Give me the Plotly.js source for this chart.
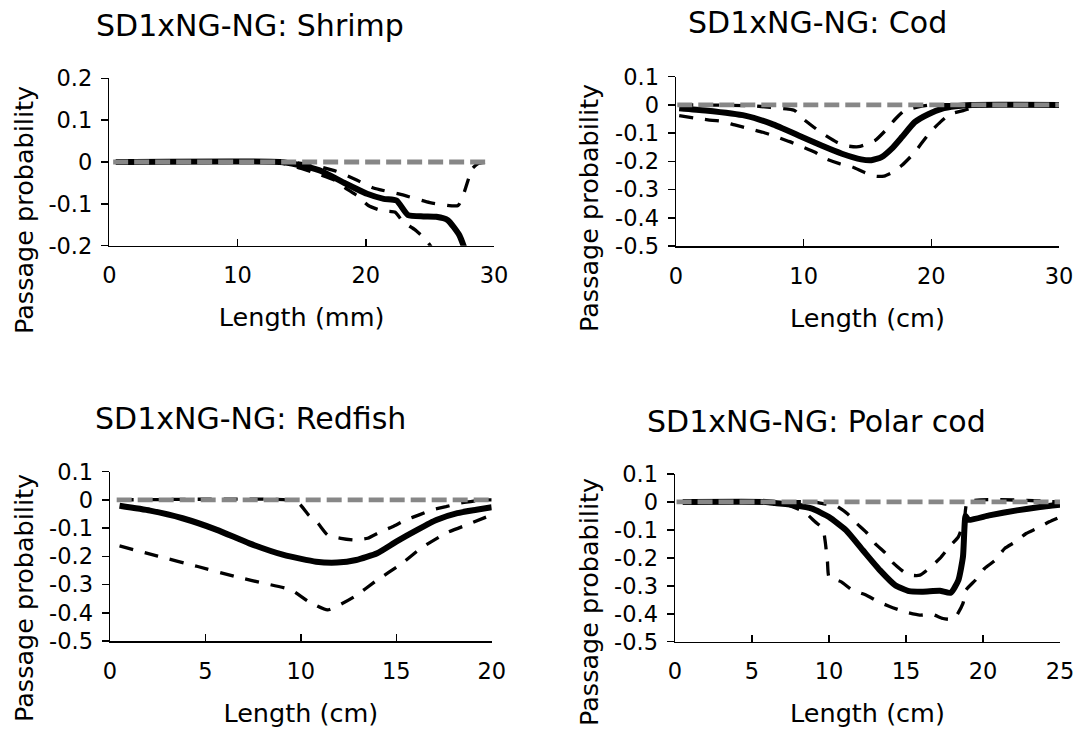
<!DOCTYPE html>
<html>
<head>
<meta charset="utf-8">
<script src="https://cdn.plot.ly/plotly-3.0.1.min.js"></script>
<style>
html,body{margin:0;padding:0;background:#ffffff;}
#chart{width:1077px;height:733px;}
</style>
</head>
<body>
<div id="chart"></div>
<script>
// ---------- Panel titles / labels ----------
const panelTitles = ["SD1xNG-NG: Shrimp", "SD1xNG-NG: Cod", "SD1xNG-NG: Redfish", "SD1xNG-NG: Polar cod"];
const xTitles = ["Length (mm)", "Length (cm)", "Length (cm)", "Length (cm)"];
const yTitle = "Passage probability";

// ---------- Tick labels ----------
const shrimpYTickVals = [0.2, 0.1, 0, -0.1, -0.2];
const shrimpYTickText = ["0.2", "0.1", "0", "-0.1", "-0.2"];
const otherYTickVals = [0.1, 0, -0.1, -0.2, -0.3, -0.4, -0.5];
const otherYTickText = ["0.1", "0", "-0.1", "-0.2", "-0.3", "-0.4", "-0.5"];
const shrimpXTicks = [0, 10, 20, 30];
const codXTicks = [0, 10, 20, 30];
const redfishXTicks = [0, 5, 10, 15, 20];
const polarXTicks = [0, 5, 10, 15, 20, 25];

// ---------- Shrimp ----------
const shrimpEstX = [0.5, 13.3, 14.6, 16.4, 18.2, 20.1, 21.4, 22.4, 23.3, 24.5, 25.5, 26.4, 27.3, 27.8];
const shrimpEstY = [0, 0, -0.006, -0.02, -0.048, -0.076, -0.088, -0.092, -0.127, -0.13, -0.131, -0.139, -0.175, -0.215];
const shrimpUpX = [0.5, 14, 15.5, 17.7, 19.2, 20.6, 22.8, 25, 27.2, 27.7, 28.3, 28.8, 29.5];
const shrimpUpY = [0, 0, -0.005, -0.022, -0.042, -0.062, -0.078, -0.097, -0.104, -0.07, -0.016, -0.003, 0];
const shrimpLoX = [0.5, 13, 14.6, 16.4, 17.6, 18.5, 19.3, 20.2, 21.2, 22.3, 22.9, 23.8, 24.6, 25.1, 25.4];
const shrimpLoY = [0, 0, -0.012, -0.03, -0.044, -0.064, -0.08, -0.104, -0.116, -0.12, -0.143, -0.161, -0.183, -0.203, -0.22];
const shrimpRefX = [0.3, 29.7];
const shrimpRefY = [0, 0];

// ---------- Cod ----------
const codEstX = [0.25, 2.3, 5.4, 7.5, 9.6, 11.4, 13, 14.5, 15.3, 16.1, 16.9, 17.7, 18.7, 19.8, 20.8, 21.9, 23.2, 30];
const codEstY = [-0.012, -0.02, -0.038, -0.067, -0.108, -0.144, -0.173, -0.193, -0.196, -0.185, -0.155, -0.114, -0.061, -0.032, -0.014, -0.005, 0, 0];
const codUpX = [0.25, 6, 7.4, 8.8, 9.3, 9.8, 10.8, 11.5, 12.6, 13.5, 14.3, 15, 15.6, 16.4, 17.2, 17.9, 18.9, 20, 30];
const codUpY = [0, -0.003, -0.009, -0.015, -0.02, -0.044, -0.079, -0.102, -0.132, -0.146, -0.148, -0.138, -0.126, -0.091, -0.049, -0.02, -0.008, 0, 0];
const codLoX = [0.25, 1.4, 2.5, 3.6, 4.6, 5.8, 6.8, 7.8, 8.9, 9.8, 10.9, 11.7, 12.8, 13.8, 14.8, 15.7, 16.3, 16.9, 17.7, 18.6, 19.2, 19.9, 20.7, 21.5, 22.5, 23.4, 25, 30];
const codLoY = [-0.038, -0.046, -0.053, -0.058, -0.071, -0.085, -0.097, -0.112, -0.13, -0.147, -0.168, -0.19, -0.208, -0.22, -0.24, -0.253, -0.252, -0.24, -0.214, -0.173, -0.138, -0.097, -0.061, -0.032, -0.02, -0.008, 0, 0];
const codRefX = [0.1, 30];
const codRefY = [0, 0];

// ---------- Redfish ----------
const redEstX = [0.5, 2.1, 3.8, 5.6, 7.3, 9.1, 10.8, 11.9, 12.9, 14, 15, 16.1, 17.1, 18.2, 19.2, 20];
const redEstY = [-0.021, -0.038, -0.065, -0.106, -0.154, -0.195, -0.219, -0.222, -0.213, -0.189, -0.148, -0.106, -0.071, -0.047, -0.035, -0.026];
const redUpX = [0.5, 9.3, 9.9, 10.4, 10.9, 11.4, 12.1, 12.8, 13.5, 14.2, 14.8, 15.5, 16.2, 16.9, 17.6, 18.3, 18.9, 19.5, 20];
const redUpY = [0, 0, -0.012, -0.053, -0.083, -0.124, -0.136, -0.142, -0.136, -0.112, -0.095, -0.071, -0.053, -0.035, -0.024, -0.012, -0.006, 0, 0];
const redLoX = [0.5, 2.5, 4.6, 6.7, 8.1, 9.5, 10.4, 11.4, 12.8, 14, 15.2, 16.3, 17.6, 18.9, 20];
const redLoY = [-0.163, -0.199, -0.236, -0.274, -0.296, -0.319, -0.36, -0.39, -0.343, -0.284, -0.23, -0.171, -0.118, -0.083, -0.053];
const redRefX = [0.35, 20];
const redRefY = [0, 0];

// ---------- Polar cod ----------
const polEstX = [0.5, 5.9, 6.5, 7.8, 8.9, 10, 11.1, 12.2, 13.3, 14.3, 15.2, 16.1, 17.2, 17.9, 18.4, 18.7, 18.87, 19.05, 20.4, 22.2, 23.7, 25];
const polEstY = [0, 0, -0.004, -0.012, -0.024, -0.054, -0.101, -0.173, -0.244, -0.298, -0.319, -0.321, -0.318, -0.325, -0.28, -0.196, -0.05, -0.064, -0.048, -0.03, -0.018, -0.01];
const polUpX = [0.5, 9, 9.6, 10.4, 11.2, 11.8, 12.5, 13, 13.7, 14.2, 15, 15.5, 15.9, 16.5, 17.2, 17.8, 18.4, 18.8, 19, 25];
const polUpY = [0, 0, -0.006, -0.012, -0.042, -0.077, -0.113, -0.149, -0.185, -0.22, -0.256, -0.263, -0.262, -0.238, -0.202, -0.161, -0.125, -0.06, 0, 0];
const polLoX = [0.5, 7, 7.4, 8.4, 9.1, 9.6, 9.75, 9.9, 10, 10.8, 11.5, 12.4, 13.2, 13.9, 14.9, 15.9, 16.7, 17.4, 18, 18.3, 18.7, 18.9, 19.5, 20.1, 20.8, 21.4, 22.1, 22.8, 23.5, 24.3, 25];
const polLoY = [0, 0, -0.012, -0.036, -0.071, -0.095, -0.14, -0.214, -0.268, -0.286, -0.315, -0.333, -0.357, -0.373, -0.393, -0.405, -0.402, -0.417, -0.42, -0.405, -0.363, -0.315, -0.28, -0.238, -0.208, -0.167, -0.143, -0.113, -0.095, -0.071, -0.054];
const polRefX = [0.1, 25];
const polRefY = [0, 0];

// ---------- Styles ----------
const FONT = "DejaVu Sans, Verdana, sans-serif";
const TICK_SIZE = 22.5;
const AXTITLE_SIZE = 25.5;
const TITLE_SIZE = 30;
const estLine = {color: "#000000", width: 6, shape: "spline", smoothing: 0.5};
const ciLine = {color: "#000000", width: 3.3, dash: "14px,12px", shape: "spline", smoothing: 0.5};
const refLine = {color: "#878787", width: 4.8, dash: "15px,6px"};

function panel(xa, ya, estX, estY, upX, upY, loX, loY, refX, refY) {
  const base = {type: "scatter", mode: "lines", xaxis: xa, yaxis: ya, showlegend: false, hoverinfo: "skip"};
  return [
    Object.assign({}, base, {x: estX, y: estY, line: estLine, name: "Estimate"}),
    Object.assign({}, base, {x: upX, y: upY, line: ciLine, name: "Upper CI"}),
    Object.assign({}, base, {x: loX, y: loY, line: ciLine, name: "Lower CI"}),
    Object.assign({}, base, {x: refX, y: refY, line: refLine, name: "Zero"})
  ];
}

const data = [].concat(
  panel("x", "y", shrimpEstX, shrimpEstY, shrimpUpX, shrimpUpY, shrimpLoX, shrimpLoY, shrimpRefX, shrimpRefY),
  panel("x2", "y2", codEstX, codEstY, codUpX, codUpY, codLoX, codLoY, codRefX, codRefY),
  panel("x3", "y3", redEstX, redEstY, redUpX, redUpY, redLoX, redLoY, redRefX, redRefY),
  panel("x4", "y4", polEstX, polEstY, polUpX, polUpY, polLoX, polLoY, polRefX, polRefY)
);

const W = 1077, H = 733;
function dx(px) { return px / W; }
function dy(py) { return 1 - py / H; }

function xAxis(domain, range, ticks, anchor, title) {
  return {
    domain: domain, range: range, anchor: anchor,
    tickmode: "array", tickvals: ticks, ticktext: ticks.map(String),
    ticks: "inside", ticklen: 7, tickwidth: 1.5, tickcolor: "#000",
    showline: true, linecolor: "#000", linewidth: 1.5,
    showgrid: false, zeroline: false, fixedrange: true,
    ticklabelstandoff: 9,
    tickfont: {family: FONT, size: TICK_SIZE, color: "#000"},
    title: {text: title, font: {family: FONT, size: AXTITLE_SIZE, color: "#000"}, standoff: 21}
  };
}
function yAxis(domain, range, vals, text, anchor) {
  return {
    domain: domain, range: range, anchor: anchor,
    tickmode: "array", tickvals: vals, ticktext: text,
    ticks: "outside", ticklen: 7, tickwidth: 1.5, tickcolor: "#000",
    showline: true, linecolor: "#000", linewidth: 1.5,
    showgrid: false, zeroline: false, fixedrange: true,
    ticklabelstandoff: 4,
    tickfont: {family: FONT, size: TICK_SIZE, color: "#000"}
  };
}

function titleAnn(text, x, y) {
  return {text: text, x: dx(x), y: dy(y), xref: "paper", yref: "paper", xanchor: "center", yanchor: "middle",
          showarrow: false, font: {family: FONT, size: TITLE_SIZE, color: "#000"}};
}
function yTitleAnn(x, y) {
  return {text: yTitle, textangle: -90, x: dx(x), y: dy(y), xref: "paper", yref: "paper", xanchor: "center", yanchor: "middle",
          showarrow: false, font: {family: FONT, size: AXTITLE_SIZE, color: "#000"}};
}

const layout = {
  width: W, height: H,
  margin: {l: 0, r: 0, t: 0, b: 0},
  paper_bgcolor: "#ffffff", plot_bgcolor: "#ffffff",
  showlegend: false,
  font: {family: FONT, color: "#000"},
  xaxis: xAxis([dx(109.3), dx(494)], [0, 30], shrimpXTicks, "y", xTitles[0]),
  yaxis: yAxis([dy(245.7), dy(78.3)], [-0.2, 0.2], shrimpYTickVals, shrimpYTickText, "x"),
  xaxis2: xAxis([dx(676), dx(1059)], [0, 30], codXTicks, "y2", xTitles[1]),
  yaxis2: yAxis([dy(246), dy(76.7)], [-0.5, 0.1], otherYTickVals, otherYTickText, "x2"),
  xaxis3: xAxis([dx(110), dx(491.7)], [0, 20], redfishXTicks, "y3", xTitles[2]),
  yaxis3: yAxis([dy(641), dy(471.7)], [-0.5, 0.1], otherYTickVals, otherYTickText, "x3"),
  xaxis4: xAxis([dx(675), dx(1060)], [0, 25], polarXTicks, "y4", xTitles[3]),
  yaxis4: yAxis([dy(641.7), dy(474)], [-0.5, 0.1], otherYTickVals, otherYTickText, "x4"),
  annotations: [
    titleAnn(panelTitles[0], 250, 25),
    titleAnn(panelTitles[1], 817, 23),
    titleAnn(panelTitles[2], 250.5, 418),
    titleAnn(panelTitles[3], 816.5, 421),
    yTitleAnn(24, 210),
    yTitleAnn(589, 208),
    yTitleAnn(24, 598),
    yTitleAnn(589, 602)
  ]
};

Plotly.newPlot("chart", data, layout, {staticPlot: true, displayModeBar: false});
</script>
</body>
</html>
